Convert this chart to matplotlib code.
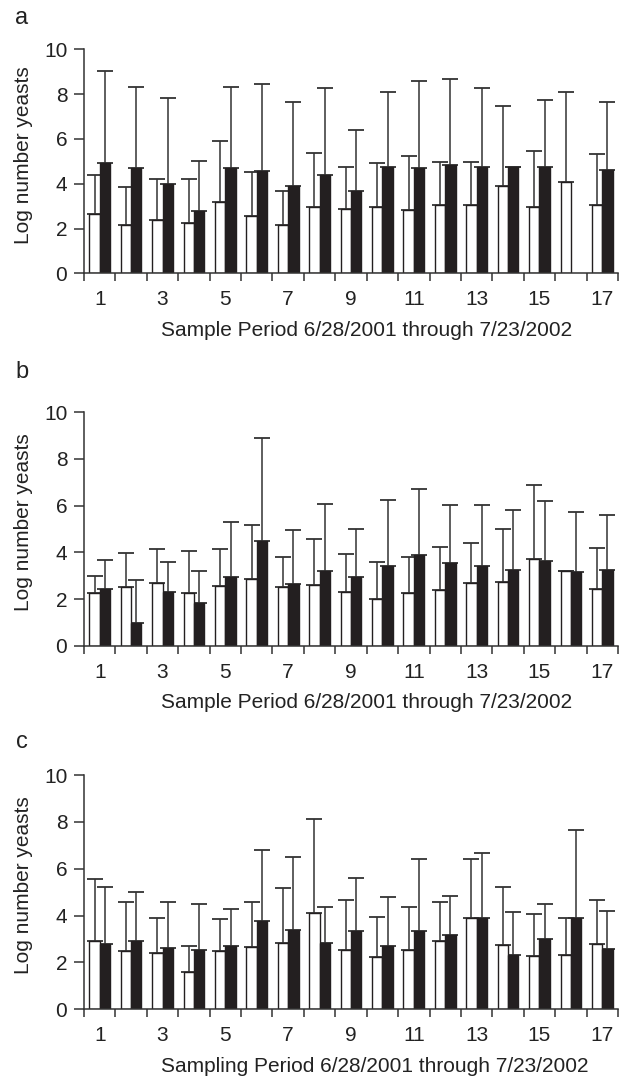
"""
yeast_counts.py
Log number of yeasts per sample period, three panels (a, b, c),
open bars vs filled bars with upper SD error bars.
Output: out.png
"""
import numpy as np
import matplotlib.pyplot as plt

periods = np.arange(1, 18)
nan = np.nan

# panel a
a_open = [2.65, 2.15, 2.40, 2.25, 3.20, 2.55, 2.15, 2.98, 2.89, 2.98, 2.81, 3.05, 3.05, 3.90, 2.98, 4.06, 3.05]
a_open_sd = [1.75, 1.70, 1.82, 1.97, 2.73, 1.97, 1.52, 2.41, 1.87, 1.93, 2.43, 1.94, 1.94, 3.59, 2.48, 4.05, 2.26]
a_filled = [4.93, 4.70, 4.00, 2.80, 4.70, 4.55, 3.92, 4.39, 3.68, 4.76, 4.69, 4.85, 4.76, 4.76, 4.76, nan, 4.61]
a_filled_sd = [4.12, 3.60, 3.82, 2.20, 3.60, 3.90, 3.75, 3.87, 2.72, 3.35, 3.90, 3.81, 3.51, 0.0, 2.98, nan, 3.05]

# panel b
b_open = [2.28, 2.51, 2.71, 2.28, 2.58, 2.88, 2.52, 2.60, 2.30, 2.00, 2.25, 2.38, 2.70, 2.74, 3.74, 3.22, 2.45]
b_open_sd = [0.73, 1.46, 1.43, 1.80, 1.56, 2.28, 1.27, 1.99, 1.62, 1.61, 1.56, 1.87, 1.72, 2.28, 3.15, 0.0, 1.76]
b_filled = [2.45, 1.00, 2.31, 1.83, 2.94, 4.49, 2.65, 3.21, 2.97, 3.42, 3.91, 3.57, 3.44, 3.25, 3.62, 3.18, 3.25]
b_filled_sd = [1.23, 1.84, 1.30, 1.38, 2.38, 4.41, 2.29, 2.88, 2.04, 2.84, 2.82, 2.48, 2.61, 2.57, 2.60, 2.53, 2.34]

# panel c
c_open = [2.93, 2.50, 2.40, 1.58, 2.48, 2.66, 2.84, 4.10, 2.52, 2.25, 2.52, 2.90, 3.88, 2.76, 2.26, 2.30, 2.77]
c_open_sd = [2.62, 2.07, 1.51, 1.14, 1.37, 1.91, 2.34, 4.02, 2.13, 1.70, 1.86, 1.69, 2.52, 2.46, 1.82, 1.60, 1.90]
c_filled = [2.77, 2.92, 2.60, 2.53, 2.69, 3.76, 3.39, 2.84, 3.34, 2.70, 3.34, 3.17, 3.88, 2.30, 2.99, 3.90, 2.59]
c_filled_sd = [2.44, 2.10, 1.97, 1.98, 1.59, 3.04, 3.12, 1.54, 2.25, 2.11, 3.08, 1.67, 2.81, 1.85, 1.51, 3.77, 1.61]

panels = [
    ('a', a_open, a_open_sd, a_filled, a_filled_sd, 'Sample Period 6/28/2001 through 7/23/2002'),
    ('b', b_open, b_open_sd, b_filled, b_filled_sd, 'Sample Period 6/28/2001 through 7/23/2002'),
    ('c', c_open, c_open_sd, c_filled, c_filled_sd, 'Sampling Period 6/28/2001 through 7/23/2002'),
]

# axes rectangles in figure fraction (left, bottom, width, height)
rects = [
    (0.1344, 0.7469, 0.8544, 0.2074),
    (0.1344, 0.4019, 0.8544, 0.2164),
    (0.1344, 0.0655, 0.8544, 0.2169),
]
letter_y = [0.983, 0.656, 0.313]

font = ['Liberation Sans', 'DejaVu Sans']
ink = '#231f20'
line = '#333333'
txt = '#222222'

fig = plt.figure(figsize=(6.25, 10.8), dpi=100)
width = 0.33

for (letter, op, op_sd, fi, fi_sd, xlab), rect, ly in zip(panels, rects, letter_y):
    ax = fig.add_axes(rect)
    op = np.array(op, dtype=float)
    fi = np.array(fi, dtype=float)

    ax.bar(periods - width / 2, op, width, color='white', edgecolor=ink, linewidth=1.0, zorder=2)
    ax.bar(periods + width / 2, fi, width, color=ink, edgecolor=ink, linewidth=1.0, zorder=2)

    # upper error bars only
    ax.errorbar(periods - width / 2, op, yerr=[np.zeros(17), op_sd], fmt='none',
                ecolor=line, elinewidth=1.1, capsize=6, capthick=1.3, zorder=1)
    ax.errorbar(periods + width / 2, fi, yerr=[np.zeros(17), fi_sd], fmt='none',
                ecolor=line, elinewidth=1.1, capsize=6, capthick=1.3, zorder=1)

    ax.set_xlim(0.5, 17.5)
    ax.set_ylim(0, 10)
    ax.set_yticks([0, 2, 4, 6, 8, 10])
    ax.set_xticks(periods[::2])
    ax.set_xticks(np.arange(0.5, 18, 1), minor=True)
    ax.tick_params(axis='x', which='major', length=0, pad=12)
    ax.tick_params(axis='x', which='minor', length=6, width=1.1, color=line)
    ax.tick_params(axis='y', length=7, width=1.1, color=line, pad=5)
    for lab in ax.get_xticklabels() + ax.get_yticklabels():
        lab.set_family(font)
        lab.set_fontsize(15)
        lab.set_color(txt)

    for s in ['top', 'right']:
        ax.spines[s].set_visible(False)
    for s in ['left', 'bottom']:
        ax.spines[s].set_linewidth(1.1)
        ax.spines[s].set_color(line)

    h_px = rect[3] * 1080
    ax.set_ylabel('Log number yeasts', family=font, fontsize=15, color=txt, va='center')
    ax.yaxis.set_label_coords(-0.114, 0.53)
    ax.set_xlabel(xlab, family=font, fontsize=15, color=txt, va='center', ha='left')
    ax.xaxis.set_label_coords(0.145, -57 / h_px)

    fig.text(0.035, ly, letter, family=font, fontsize=17, color=txt, ha='center', va='center')

fig.savefig('out.png', dpi=100)
plt.close(fig)
